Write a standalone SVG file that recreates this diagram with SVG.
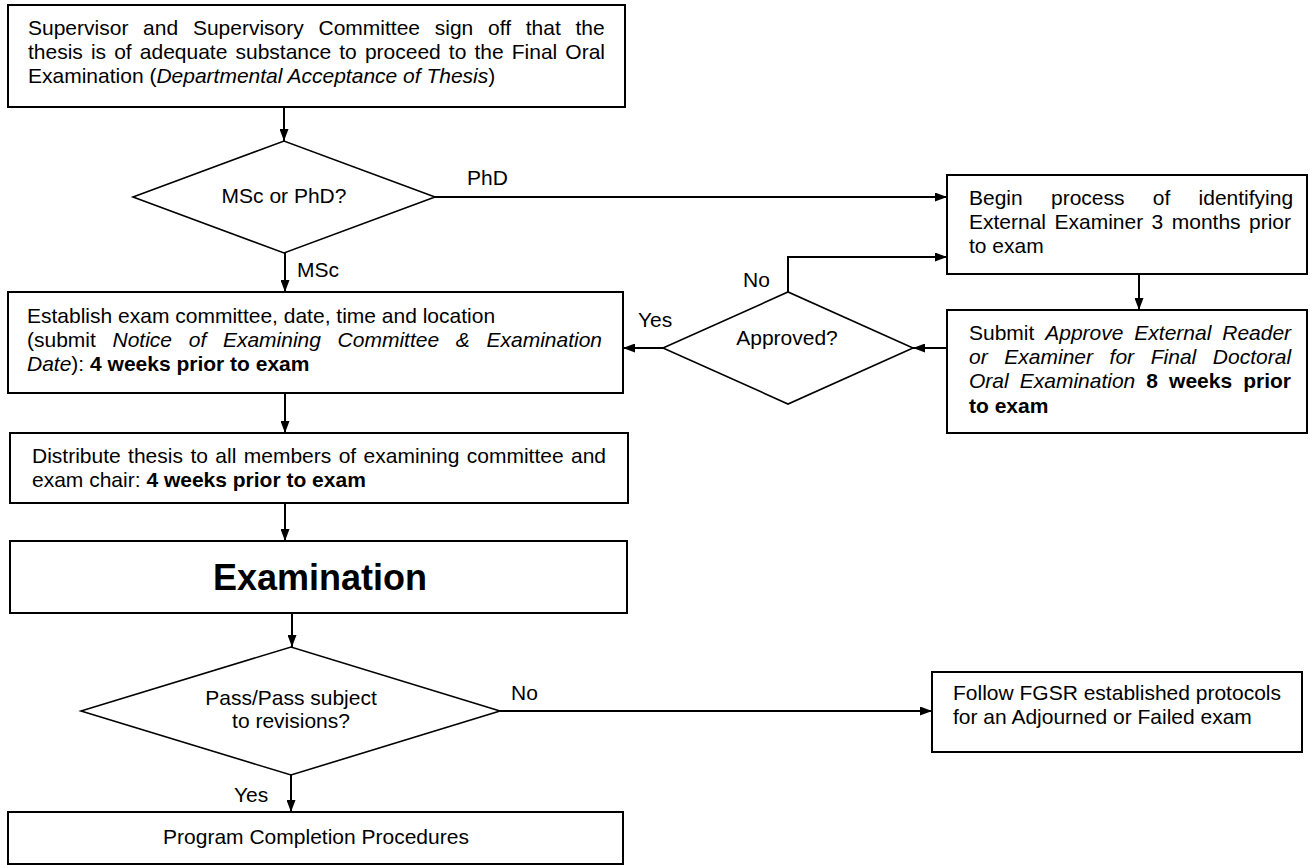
<svg xmlns="http://www.w3.org/2000/svg" width="1310" height="865" viewBox="0 0 1310 865">
<defs>
<marker id="ah" markerUnits="userSpaceOnUse" markerWidth="12" markerHeight="9" viewBox="0 0 12 9" refX="12" refY="4.5" orient="auto"><path d="M0,0 L12,4.5 L0,9 z" fill="#000"/></marker>
<style>
.box{fill:#fff;stroke:#000;stroke-width:2}
.dia{fill:#fff;stroke:#000;stroke-width:1.6}
.con{fill:none;stroke:#000;stroke-width:2;marker-end:url(#ah)}
text{font-family:"Liberation Sans",Arial,sans-serif;font-size:21px;fill:#000}
.i{font-style:italic}
.b{font-weight:bold}
.c{text-anchor:middle}
</style>
</defs>
<rect width="1310" height="865" fill="#fff"/>

<g id="connectors">
<path class="con" d="M284,107 V141"/>
<path class="con" d="M435,197 H947"/>
<path class="con" d="M285,253 V292"/>
<path class="con" d="M1139,274 V310"/>
<path class="con" d="M947,348 H913"/>
<path class="con" d="M663,348 H623"/>
<path class="con" d="M788,292 V257 H947"/>
<path class="con" d="M285,393 V433"/>
<path class="con" d="M285,503 V541"/>
<path class="con" d="M292,613 V647"/>
<path class="con" d="M500,711 H932"/>
<path class="con" d="M291,775 V812"/>
<text x="467" y="185">PhD</text>
<text x="297" y="277">MSc</text>
<text x="638" y="327">Yes</text>
<text x="743" y="287">No</text>
<text x="511" y="700">No</text>
<text x="234" y="802">Yes</text>
</g>

<g id="n-signoff">
<rect class="box" x="8" y="5" width="617" height="102"/>
<text x="28" y="35" word-spacing="8.9">Supervisor and Supervisory Committee sign off that the</text>
<text x="28" y="59" word-spacing="2.25">thesis is of adequate substance to proceed to the Final Oral</text>
<text x="28" y="83">Examination (<tspan class="i">Departmental Acceptance of Thesis</tspan>)</text>
</g>

<g id="d-degree">
<polygon class="dia" points="133,197 284,141 435,197 284,253"/>
<text class="c" x="284" y="203">MSc or PhD?</text>
</g>

<g id="n-establish">
<rect class="box" x="8" y="292" width="615" height="101"/>
<text x="27" y="323">Establish exam committee, date, time and location</text>
<text x="27" y="347" word-spacing="10.83">(submit <tspan class="i">Notice of Examining Committee &amp; Examination</tspan></text>
<text x="27" y="371"><tspan class="i">Date</tspan>): <tspan class="b">4 weeks prior to exam</tspan></text>
</g>

<g id="n-begin">
<rect class="box" x="947" y="175" width="360" height="99"/>
<text x="969" y="205" word-spacing="22.43">Begin process of identifying</text>
<text x="969" y="229" word-spacing="2.6">External Examiner 3 months prior</text>
<text x="969" y="253">to exam</text>
</g>

<g id="n-submit">
<rect class="box" x="947" y="310" width="360" height="123"/>
<text x="969" y="340" word-spacing="5.03">Submit <tspan class="i">Approve External Reader</tspan></text>
<text x="969" y="364" word-spacing="10.78" class="i">or Examiner for Final Doctoral</text>
<text x="969" y="388" word-spacing="5.21"><tspan class="i">Oral Examination</tspan> <tspan class="b">8 weeks prior</tspan></text>
<text x="969" y="413" class="b">to exam</text>
</g>

<g id="d-approved">
<polygon class="dia" points="663,348 788,292 913,348 788,404"/>
<text class="c" x="787" y="345">Approved?</text>
</g>

<g id="n-distribute">
<rect class="box" x="10" y="433" width="618" height="70"/>
<text x="32" y="463" word-spacing="1.58">Distribute thesis to all members of examining committee and</text>
<text x="32" y="487">exam chair: <tspan class="b">4 weeks prior to exam</tspan></text>
</g>

<g id="n-exam">
<rect class="box" x="10" y="541" width="617" height="72"/>
<text class="c b" x="320" y="590" style="font-size:36px">Examination</text>
</g>

<g id="d-pass">
<polygon class="dia" points="81,711 291,647 500,711 291,775"/>
<text class="c" x="291" y="705">Pass/Pass subject</text>
<text class="c" x="291" y="728">to revisions?</text>
</g>

<g id="n-fgsr">
<rect class="box" x="932" y="672" width="370" height="80"/>
<text x="953" y="700">Follow FGSR established protocols</text>
<text x="953" y="724">for an Adjourned or Failed exam</text>
</g>

<g id="n-complete">
<rect class="box" x="8" y="812" width="615" height="52"/>
<text class="c" x="316" y="844">Program Completion Procedures</text>
</g>
</svg>
